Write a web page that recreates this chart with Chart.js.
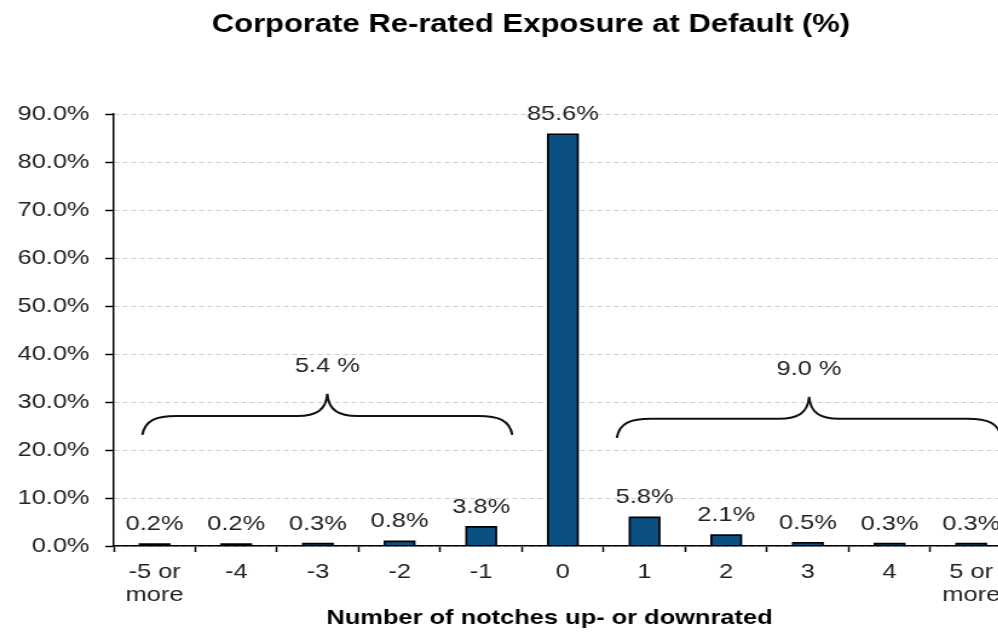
<!DOCTYPE html>
<html>
<head>
<meta charset="utf-8">
<script src="https://cdn.jsdelivr.net/npm/chart.js@4/dist/chart.umd.min.js"></script>
<style>
  html, body { margin: 0; padding: 0; background: #fff; overflow: hidden; width: 998px; height: 637px; }
  #wrap { width: 840px; height: 637px; transform: scaleX(1.21); transform-origin: 0 0; }
  canvas { display: block; }
</style>
</head>
<body>
<div id="wrap"><canvas id="c" width="840" height="637"></canvas></div>
<script>
// ---- data ----
const chartTitle = 'Corporate Re-rated Exposure at Default (%)';
const axisTitle = 'Number of notches up- or downrated';
const categories = [['-5 or', 'more'], '-4', '-3', '-2', '-1', '0', '1', '2', '3', '4', ['5 or', 'more']];
const exposure = [0.2, 0.2, 0.3, 0.8, 3.8, 85.6, 5.8, 2.1, 0.5, 0.3, 0.3];
const yMin = 0;
const yMax = 90;
const yStep = 10;

// bracketed groups: downgrades and upgrades, with their combined share
const groupLabels = ['5.4 %', '9.0 %'];
const groupFrom = [-0.15, 5.66];   // category position where the brace starts
const groupTo = [4.38, 10.37];     // category position where the brace ends
const groupLevel = [27.1, 26.5];   // value level of the brace's flat run

const FONT = '"Liberation Sans", Arial, sans-serif';
const TEXT = '#222222';

const annotations = {
  id: 'annotations',
  afterDatasetsDraw(chart) {
    const { ctx, scales: { x, y }, chartArea } = chart;
    ctx.save();

    // value labels above each bar
    ctx.fillStyle = TEXT;
    ctx.font = '21px ' + FONT;
    ctx.textAlign = 'center';
    ctx.textBaseline = 'alphabetic';
    chart.getDatasetMeta(1).data.forEach((bar, i) => {
      ctx.fillText(exposure[i].toFixed(1) + '%', bar.x, bar.y - 15);
    });

    // curly braces over the groups
    ctx.strokeStyle = '#111';
    ctx.lineWidth = 2;
    groupLabels.forEach((label, g) => {
      const x0 = x.getPixelForValue(groupFrom[g]);
      const x1 = x.getPixelForValue(groupTo[g]);
      const xm = (x0 + x1) / 2;
      const yH = y.getPixelForValue(groupLevel[g]);
      const r1 = 28, r2 = 25, drop = 19, rise = 22;
      ctx.beginPath();
      ctx.moveTo(x0, yH + drop);
      ctx.bezierCurveTo(x0 + 2, yH + 4, x0 + 12, yH, x0 + r1, yH);
      ctx.lineTo(xm - r2, yH);
      ctx.bezierCurveTo(xm - 9, yH, xm - 1, yH - 6, xm, yH - rise);
      ctx.bezierCurveTo(xm + 1, yH - 6, xm + 9, yH, xm + r2, yH);
      ctx.lineTo(x1 - r1, yH);
      ctx.bezierCurveTo(x1 - 12, yH, x1 - 2, yH + 4, x1, yH + drop);
      ctx.stroke();

      ctx.fillStyle = TEXT;
      ctx.font = '21px ' + FONT;
      ctx.textBaseline = 'middle';
      ctx.fillText(label, xm, yH - rise - 28);
    });

    // chart title and axis title
    ctx.fillStyle = '#000';
    ctx.textBaseline = 'middle';
    ctx.font = 'bold 25.6px ' + FONT;
    ctx.fillText(chartTitle, chart.width * 0.5224, 25);
    ctx.font = 'bold 21px ' + FONT;
    ctx.fillText(axisTitle, (chartArea.left + chartArea.right) / 2 - 11, 618);
    ctx.restore();
  }
};

// each bar: a black outline layer slightly larger than the blue fill layer
const barShape = { barPercentage: 0.34, categoryPercentage: 1, borderWidth: 0, grouped: false };

new Chart(document.getElementById('c'), {
  type: 'bar',
  data: {
    labels: categories,
    datasets: [
      Object.assign({ data: exposure, backgroundColor: '#000', inflateAmount: 1.7, order: 2 }, barShape),
      Object.assign({ data: exposure, backgroundColor: '#0b5083', inflateAmount: 0, order: 1 }, barShape)
    ]
  },
  options: {
    responsive: false,
    animation: false,
    devicePixelRatio: 1,
    layout: { padding: { top: 114, right: 3.6, left: 0, bottom: 0 } },
    plugins: { legend: { display: false }, tooltip: { enabled: false }, title: { display: false } },
    scales: {
      x: {
        offset: true,
        afterFit(scale) { scale.height = 91; },
        grid: { display: true, drawOnChartArea: false, drawTicks: true, tickLength: 6, tickColor: '#000', tickWidth: 1.5 },
        border: { display: true, color: '#000', width: 1.5, z: 1 },
        ticks: { color: TEXT, font: { family: FONT, size: 21, lineHeight: 1.1 }, padding: 9, maxRotation: 0, autoSkip: false }
      },
      y: {
        min: yMin,
        max: yMax,
        afterFit(scale) { scale.width = 94; },
        grid: { color: '#c5cfdb', lineWidth: 1, drawTicks: true, tickLength: 7, tickColor: '#000', tickWidth: 1.5, tickBorderDash: [] },
        border: { display: true, color: '#000', width: 1.5, dash: [4, 3] },
        ticks: {
          stepSize: yStep,
          color: TEXT,
          padding: 13,
          font: { family: FONT, size: 21 },
          callback: v => v.toFixed(1) + '%'
        }
      }
    }
  },
  plugins: [annotations]
});
</script>
</body>
</html>
